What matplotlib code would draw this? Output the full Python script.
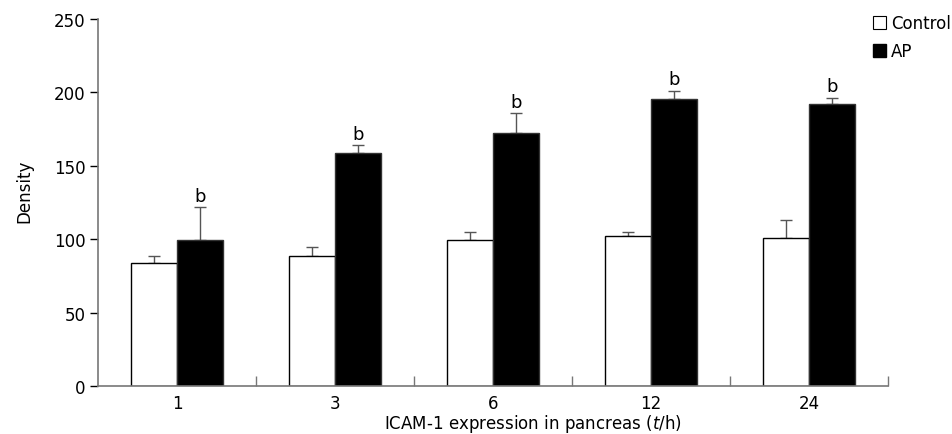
import numpy as np
import matplotlib
matplotlib.use("Agg")
import matplotlib.pyplot as plt
from matplotlib.patches import Patch

hours = ["1", "3", "6", "12", "24"]
control = [83.6, 88.5, 99.2, 102.4, 100.6]
control_err = [4.7, 6.1, 5.9, 2.7, 12.7]
ap = [99.2, 158.5, 172.3, 195.5, 192.3]
ap_err = [22.9, 5.7, 13.4, 5.7, 4.1]
marks = ["b", "b", "b", "b", "b"]

plt.rcParams['font.family'] = ['DejaVu Sans']
plt.rcParams['font.size'] = 12

fig = plt.figure(figsize=(9.52, 4.35), dpi=100)
ax = fig.add_axes([98 / 952, 1 - 387 / 435, 790 / 952, 367 / 435])

axis_col = "#777777"
x = np.arange(len(hours)) + 0.5
w = 0.29

ax.bar(x - w / 2, control, w, color="white", edgecolor="black", linewidth=1.0, zorder=2)
ax.bar(x + w / 2, ap, w, color="black", edgecolor="#333333", linewidth=1.0, zorder=2)

ax.errorbar(x - w / 2, control, yerr=[np.zeros(len(control)), control_err], fmt="none",
            ecolor="#555555", elinewidth=1.0, capsize=4, capthick=1.0, zorder=1)
ax.errorbar(x + w / 2, ap, yerr=[np.zeros(len(ap)), ap_err], fmt="none",
            ecolor="#555555", elinewidth=1.0, capsize=4, capthick=1.0, zorder=1)

for xi, v, e, m in zip(x + w / 2, ap, ap_err, marks):
    ax.text(xi, v + e + 1.5, m, ha="center", va="bottom", fontsize=13)

ax.set_xlim(0, len(hours))
ax.set_ylim(0, 250)
ax.set_yticks([0, 50, 100, 150, 200, 250])
ax.set_xticks(x)
ax.set_xticklabels(hours)
ax.set_xticks(np.arange(1, len(hours) + 1), minor=True)
ax.tick_params(axis="x", which="major", length=0, pad=6)
ax.tick_params(axis="x", which="minor", direction="in", length=7, color=axis_col, width=1)
ax.tick_params(axis="y", direction="out", length=6, color="black", width=1, pad=3)

for s in ["top", "right"]:
    ax.spines[s].set_visible(False)
for s in ["left", "bottom"]:
    ax.spines[s].set_color(axis_col)
    ax.spines[s].set_linewidth(1.2)

ax.set_ylabel("Density", labelpad=15)
ax.yaxis.label.set_y(0.534)
ax.set_xlabel(r"ICAM-1 expression in pancreas ($\mathit{t}$/h)")
ax.xaxis.set_label_coords(0.551, -0.071)

handles = [Patch(facecolor="white", edgecolor="black", linewidth=0.8),
           Patch(facecolor="black", edgecolor="black")]
fig.legend(handles, ["Control", "AP"], loc="upper left",
           bbox_to_anchor=(873 / 952, 1 - 15 / 435), frameon=False,
           handlelength=0.8, handleheight=0.8, handletextpad=0.3,
           labelspacing=0.6, borderaxespad=0, borderpad=0, fontsize=12)

fig.savefig("out.png", dpi=100)
